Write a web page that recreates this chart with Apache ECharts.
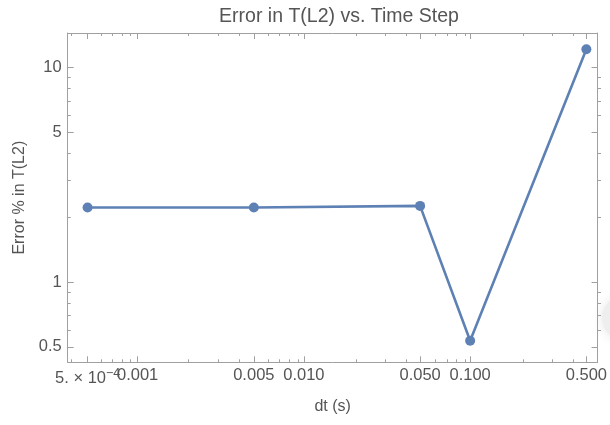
<!DOCTYPE html>
<html>
<head>
<meta charset="utf-8">
<script src="https://cdn.jsdelivr.net/npm/echarts@6/dist/echarts.min.js"></script>
<style>
  html, body { margin: 0; padding: 0; background: #fff; }
  #chart { width: 610px; height: 425px; }
</style>
</head>
<body>
<div id="chart"></div>
<script>
// Time step (s) and the resulting error in T(L2), in percent
const dtValues = [0.0005, 0.005, 0.05, 0.1, 0.5];
const errorPct = [2.23, 2.23, 2.27, 0.534, 12.2];

// Log-scale frame ticks
const xMajorTicks = [0.0005, 0.001, 0.005, 0.01, 0.05, 0.1, 0.5];
const xTickLabels = ['5. × 10^-4', '0.001', '0.005', '0.010', '0.050', '0.100', '0.500'];
const xMinorTicks = [0.0004, 0.0006, 0.0007, 0.0008, 0.0009, 0.002, 0.003, 0.004,
                     0.006, 0.007, 0.008, 0.009, 0.02, 0.03, 0.04,
                     0.06, 0.07, 0.08, 0.09, 0.2, 0.3, 0.4];
const yMajorTicks = [0.5, 1, 5, 10];
const yTickLabels = ['0.5', '1', '5', '10'];
const yMinorTicks = [0.6, 0.7, 0.8, 0.9, 2, 3, 4, 6, 7, 8, 9];

// Plot range (data units)
const xRange = [0.0003797, 0.584];
const yRange = [0.4239, 14.51];

const lg = Math.log10;
const textColor = '#555555';
const frameColor = '#a0a0a0';
const font = 'Liberation Sans, Arial, sans-serif';
const tickFont = 16.5;

function labelFor(ticks, labels, v) {
  for (let i = 0; i < ticks.length; i++) {
    if (Math.abs(lg(ticks[i]) - v) < 1e-6) return labels[i];
  }
  return '';
}

// x tick labels; a label with '^' gets a superscript exponent
function xLabels(values) {
  return {
    show: true, margin: 5, customValues: values.map(lg),
    hideOverlap: false, showMinLabel: true, showMaxLabel: true,
    color: textColor, fontFamily: font, fontSize: tickFont,
    formatter: v => {
      const s = labelFor(xMajorTicks, xTickLabels, v);
      if (s.indexOf('^') >= 0) {
        const p = s.split('^');
        return '{b|' + p[0] + '}{s|' + p[1].replace('-', '−') + '}';
      }
      return s;
    },
    rich: {
      b: { color: textColor, fontFamily: font, fontSize: tickFont },
      s: { color: textColor, fontFamily: font, fontSize: 12.5, padding: [0, 0, 9, 0] }
    }
  };
}

function xAxisDef(grid, pos, ticks, len, labelValues, extra) {
  return Object.assign({
    type: 'value', gridIndex: grid, position: pos,
    min: lg(xRange[0]), max: lg(xRange[1]),
    axisLine: { show: grid === 0, onZero: false, lineStyle: { color: frameColor, width: 1 } },
    axisTick: { show: true, inside: true, length: len, customValues: ticks.map(lg),
                lineStyle: { color: frameColor, width: 1 } },
    axisLabel: labelValues ? xLabels(labelValues) : { show: false },
    splitLine: { show: false }
  }, extra || {});
}

function yAxisDef(grid, pos, ticks, len, withLabels, extra) {
  return Object.assign({
    type: 'value', gridIndex: grid, position: pos,
    min: lg(yRange[0]), max: lg(yRange[1]),
    axisLine: { show: grid === 0, onZero: false, lineStyle: { color: frameColor, width: 1 } },
    axisTick: { show: true, inside: true, length: len, customValues: ticks.map(lg),
                lineStyle: { color: frameColor, width: 1 } },
    axisLabel: withLabels ? {
      show: true, margin: 6, customValues: ticks.map(lg),
      hideOverlap: false, showMinLabel: true, showMaxLabel: true,
      color: textColor, fontFamily: font, fontSize: tickFont,
      formatter: v => labelFor(yMajorTicks, yTickLabels, v)
    } : { show: false },
    splitLine: { show: false }
  }, extra || {});
}

const gridRect = { left: 67.7, right: 9, top: 33, bottom: 62.7 };

const chart = echarts.init(document.getElementById('chart'), null, { renderer: 'canvas' });
chart.setOption({
  animation: false,
  backgroundColor: '#ffffff',
  title: {
    text: 'Error in T(L2) vs. Time Step',
    left: 334, top: 2, textAlign: 'center',
    textStyle: { color: textColor, fontFamily: font, fontSize: 19.5, fontWeight: 'normal' }
  },
  grid: [
    Object.assign({ containLabel: false }, gridRect),
    Object.assign({ containLabel: false }, gridRect)
  ],
  xAxis: [
    // frame with labelled major ticks
    xAxisDef(0, 'bottom', xMajorTicks, 6, xMajorTicks.slice(1), {
      name: 'dt (s)', nameLocation: 'middle', nameGap: 36,
      nameTextStyle: { color: textColor, fontFamily: font, fontSize: 16 }
    }),
    xAxisDef(0, 'top', xMajorTicks, 6, null),
    // short minor ticks, plus the first (crowded) label on its own
    xAxisDef(1, 'bottom', xMinorTicks, 3, xMajorTicks.slice(0, 1)),
    xAxisDef(1, 'top', xMinorTicks, 3, null)
  ],
  yAxis: [
    yAxisDef(0, 'left', yMajorTicks, 6, true, {
      name: 'Error % in T(L2)', nameLocation: 'middle', nameGap: 39,
      nameTextStyle: { color: textColor, fontFamily: font, fontSize: 16 }
    }),
    yAxisDef(0, 'right', yMajorTicks, 6, false),
    yAxisDef(1, 'left', yMinorTicks, 3, false),
    yAxisDef(1, 'right', yMinorTicks, 3, false)
  ],
  series: [{
    type: 'line',
    xAxisIndex: 0, yAxisIndex: 0,
    data: dtValues.map((d, i) => [lg(d), lg(errorPct[i])]),
    lineStyle: { color: '#5E81B5', width: 2.6 },
    itemStyle: { color: '#5E81B5' },
    symbol: 'circle', symbolSize: 10,
    showSymbol: true
  }],
  graphic: [{
    type: 'circle', z: -1, silent: true,
    shape: { cx: 624, cy: 318, r: 22 },
    style: { fill: '#eeeeee', shadowBlur: 12, shadowColor: '#e6e6e6' }
  }]
});
</script>
</body>
</html>
